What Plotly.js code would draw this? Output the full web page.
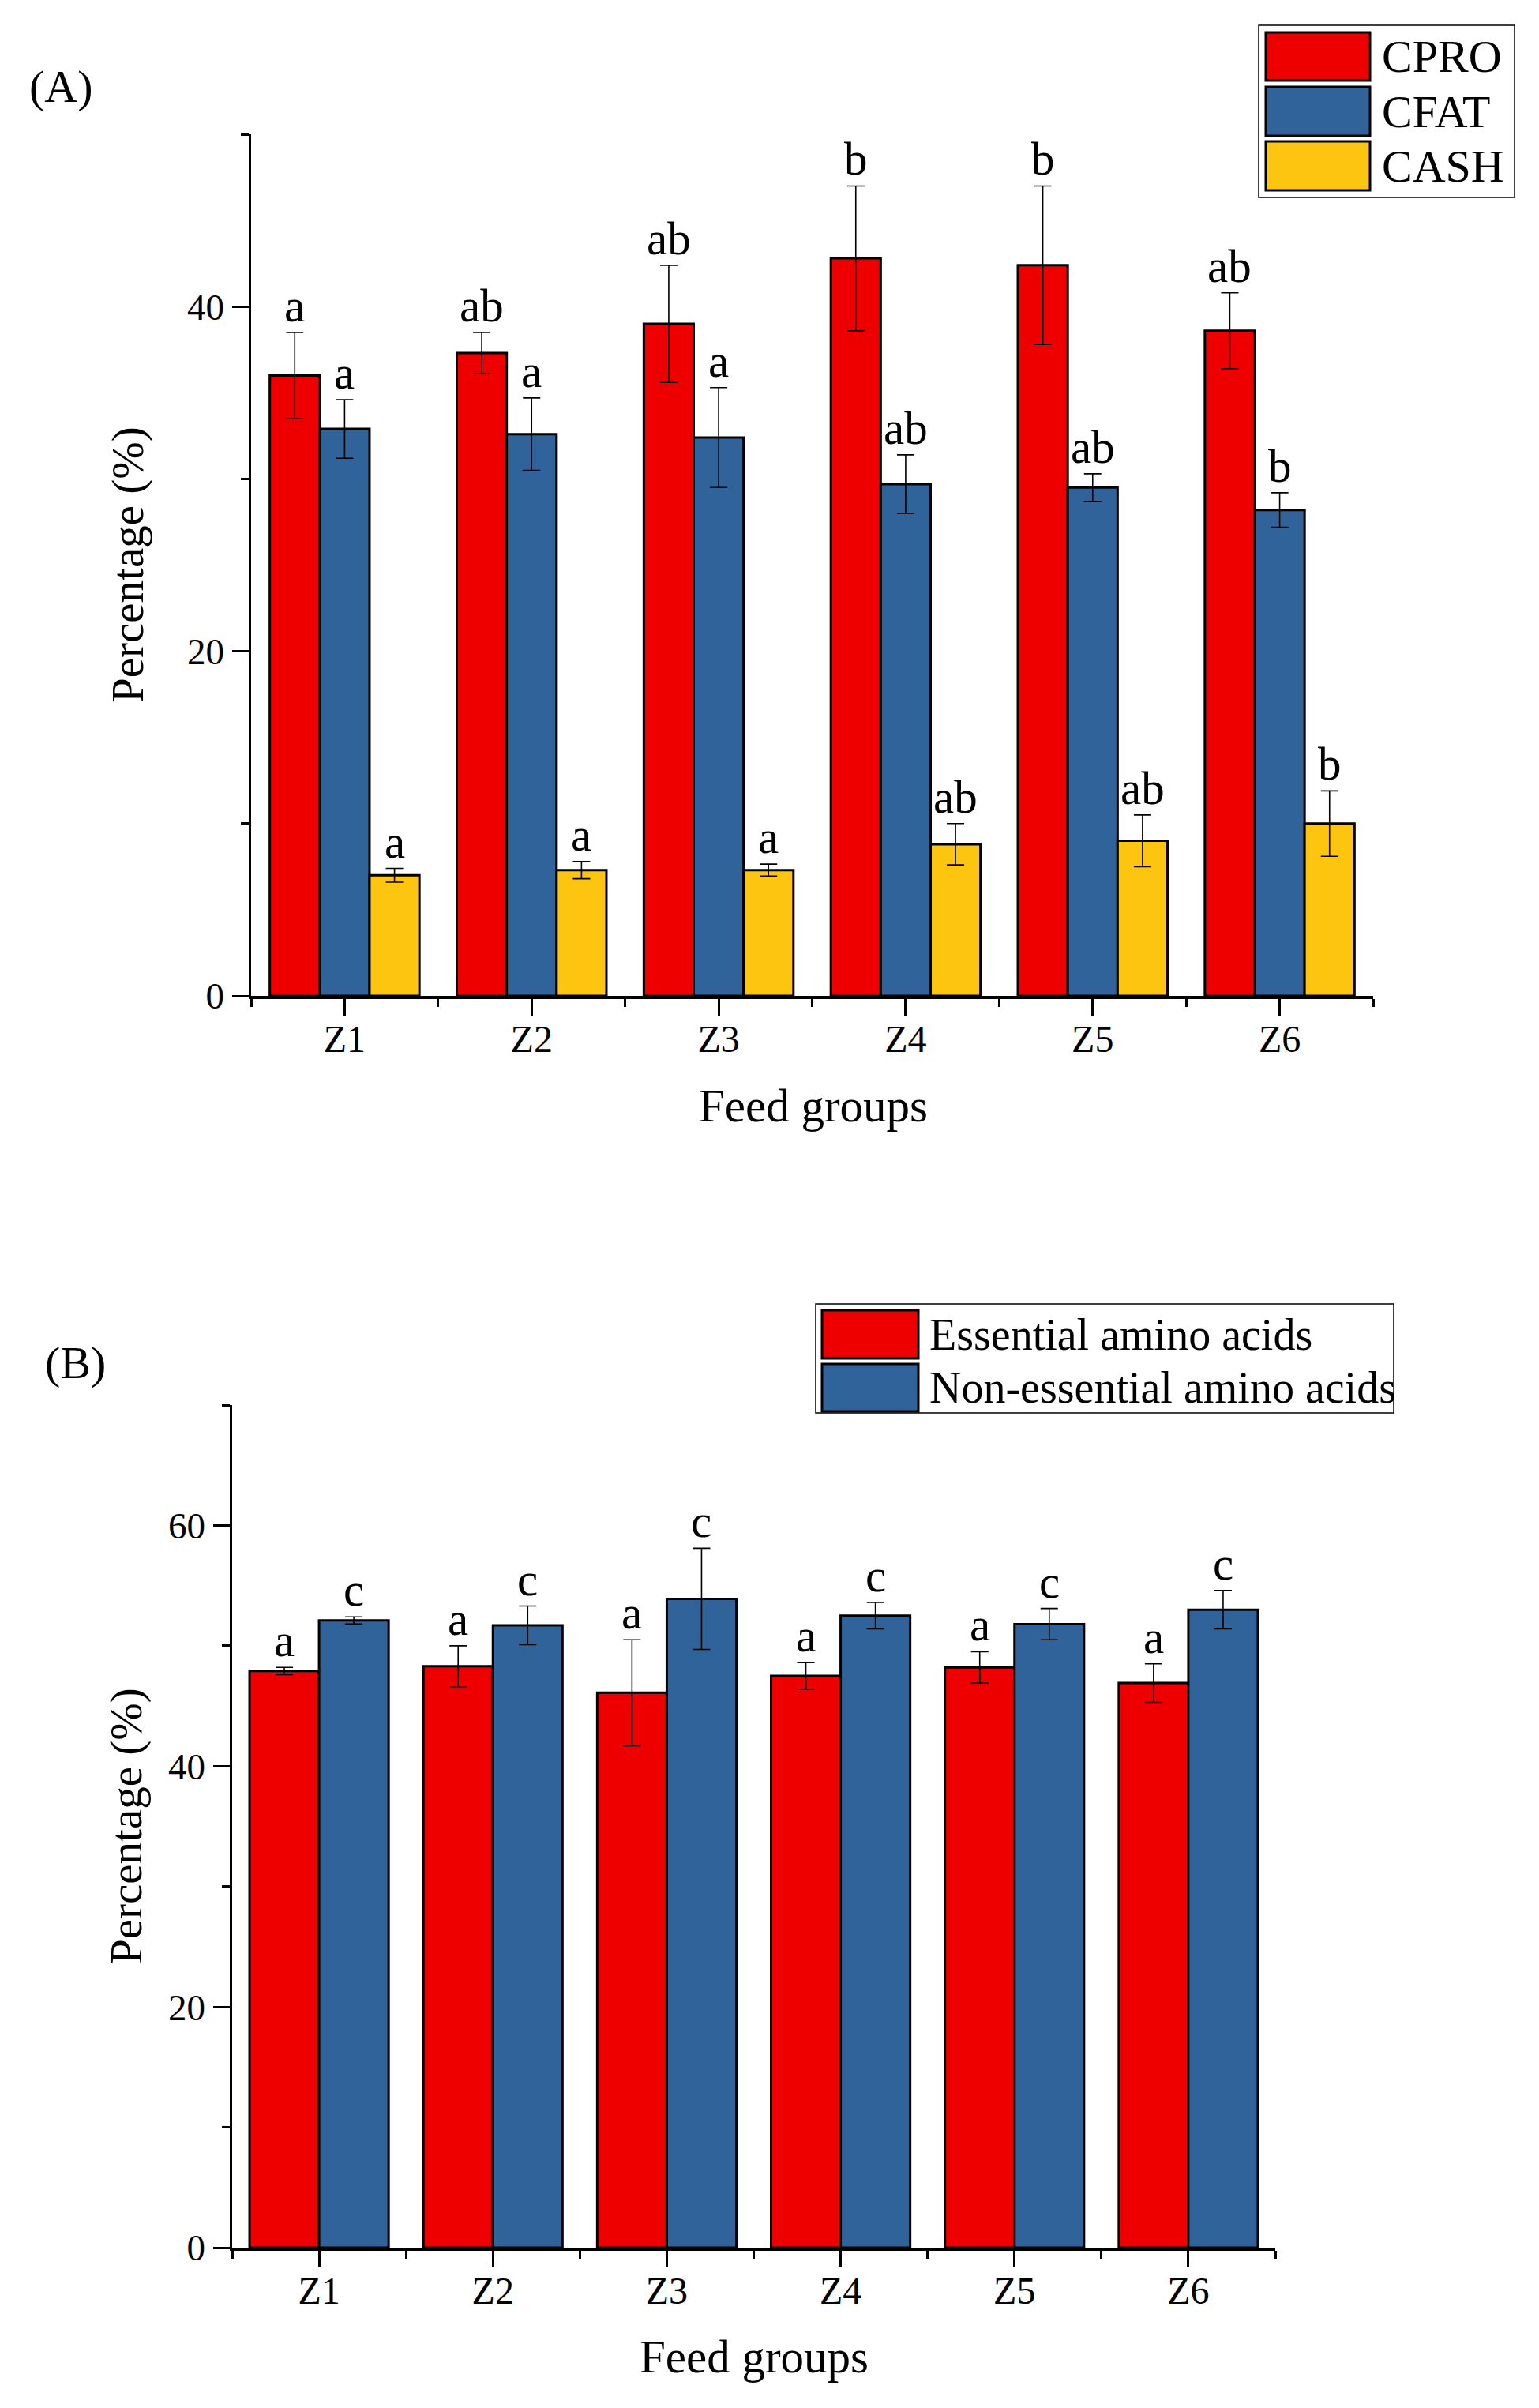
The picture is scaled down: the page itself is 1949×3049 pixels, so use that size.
<!DOCTYPE html>
<html>
<head>
<meta charset="utf-8">
<script src="https://cdn.plot.ly/plotly-3.0.1.min.js"></script>
<style>html,body{margin:0;padding:0;background:#fff;}#chart{width:1949px;height:3049px;}</style>
</head>
<body>
<div id="chart"></div>
<script>
// ---------- data ----------
const categories = ['Z1', 'Z2', 'Z3', 'Z4', 'Z5', 'Z6'];

// Panel A
const cproMean = [36.0, 37.3, 39.0, 42.8, 42.4, 38.6];
const cproErr  = [2.5, 1.2, 3.4, 4.2, 4.6, 2.2];
const cproLetters = ['a', 'ab', 'ab', 'b', 'b', 'ab'];

const cfatMean = [32.9, 32.6, 32.4, 29.7, 29.5, 28.2];
const cfatErr  = [1.7, 2.1, 2.9, 1.7, 0.8, 1.0];
const cfatLetters = ['a', 'a', 'a', 'ab', 'ab', 'b'];

const cashMean = [7.0, 7.3, 7.3, 8.8, 9.0, 10.0];
const cashErr  = [0.4, 0.5, 0.35, 1.2, 1.5, 1.9];
const cashLetters = ['a', 'a', 'a', 'ab', 'ab', 'b'];

// Panel B
const eaaMean = [47.9, 48.3, 46.1, 47.5, 48.2, 46.9];
const eaaErr  = [0.3, 1.7, 4.4, 1.1, 1.3, 1.6];
const eaaLetters = ['a', 'a', 'a', 'a', 'a', 'a'];

const neaaMean = [52.1, 51.7, 53.9, 52.5, 51.8, 53.0];
const neaaErr  = [0.3, 1.6, 4.2, 1.1, 1.3, 1.6];
const neaaLetters = ['c', 'c', 'c', 'c', 'c', 'c'];

const yTicksA = [0, 20, 40];
const yMinorA = [10, 30, 50];
const yTicksB = [0, 20, 40, 60];
const yMinorB = [10, 30, 50, 70];

// ---------- styles ----------
const W = 1949, H = 3049;
const FONT = 'Liberation Serif, Times New Roman, serif';
const RED = '#EE0000', BLUE = '#31639B', YELLOW = '#FDC50F';
const px = x => x / W;
const py = y => 1 - y / H;

const idx = categories.map((_, i) => i);
const minorX = [-0.5].concat(idx.map(i => i + 0.5));

function barTrace(name, y, err, color, xa, ya) {
  return {
    type: 'bar', name: name, x: idx, y: y,
    xaxis: xa, yaxis: ya,
    marker: {color: color, line: {color: '#000', width: 3}},
    error_y: {type: 'data', array: err, visible: true, color: '#000', thickness: 1.6, width: 11},
    showlegend: false, hoverinfo: 'skip'
  };
}

const traces = [
  barTrace('CPRO', cproMean, cproErr, RED, 'x', 'y'),
  barTrace('CFAT', cfatMean, cfatErr, BLUE, 'x', 'y'),
  barTrace('CASH', cashMean, cashErr, YELLOW, 'x', 'y'),
  barTrace('Essential amino acids', eaaMean, eaaErr, RED, 'x2', 'y2'),
  barTrace('Non-essential amino acids', neaaMean, neaaErr, BLUE, 'x2', 'y2')
];

const annotations = [];
function letterAnns(series, xref, yref) {
  const n = series.length, slot = 0.8 / n;
  series.forEach((s, k) => {
    s.mean.forEach((v, i) => {
      annotations.push({
        xref: xref, yref: yref,
        x: i + (k - (n - 1) / 2) * slot, y: v + s.err[i],
        text: s.letters[i], showarrow: false,
        xanchor: 'center', yanchor: 'bottom', yshift: -1,
        font: {family: FONT, size: 59, color: '#000'}
      });
    });
  });
}
letterAnns([
  {mean: cproMean, err: cproErr, letters: cproLetters},
  {mean: cfatMean, err: cfatErr, letters: cfatLetters},
  {mean: cashMean, err: cashErr, letters: cashLetters}
], 'x', 'y');
letterAnns([
  {mean: eaaMean, err: eaaErr, letters: eaaLetters},
  {mean: neaaMean, err: neaaErr, letters: neaaLetters}
], 'x2', 'y2');

function textAnn(text, x, y, size, opts) {
  return Object.assign({
    xref: 'paper', yref: 'paper', x: px(x), y: py(y), text: text,
    showarrow: false, xanchor: 'center', yanchor: 'middle',
    font: {family: FONT, size: size, color: '#000'}
  }, opts || {});
}
// panel labels & axis titles
annotations.push(textAnn('(A)', 77, 109, 58));
annotations.push(textAnn('(B)', 95, 1725, 58));
annotations.push(textAnn('Feed groups', 1030, 1400, 59));
annotations.push(textAnn('Feed groups', 955, 2984, 59));
annotations.push(textAnn('Percentage (%)', 162, 715, 57, {textangle: -90}));
annotations.push(textAnn('Percentage (%)', 160, 2312, 57, {textangle: -90}));

// custom legends
const shapes = [];
function legend(box, sw, rowsY, names, colors, textX, size) {
  shapes.push({type: 'rect', xref: 'paper', yref: 'paper',
    x0: px(box[0]), x1: px(box[1]), y0: py(box[3]), y1: py(box[2]),
    line: {color: '#000', width: 1.5}, fillcolor: '#fff'});
  names.forEach((nm, i) => {
    shapes.push({type: 'rect', xref: 'paper', yref: 'paper',
      x0: px(sw[0]), x1: px(sw[1]), y0: py(rowsY[i][1]), y1: py(rowsY[i][0]),
      line: {color: '#000', width: 3}, fillcolor: colors[i]});
    annotations.push(textAnn(nm, textX, (rowsY[i][0] + rowsY[i][1]) / 2, size, {xanchor: 'left'}));
  });
}
legend([1594, 1918, 32, 250], [1603, 1735], [[41, 102], [110, 172], [179, 241]],
  traces.slice(0, 3).map(t => t.name), [RED, BLUE, YELLOW], 1748, 58);
legend([1033, 1765, 1651, 1789], [1041, 1163], [[1659, 1720], [1727, 1787]],
  traces.slice(3).map(t => t.name), [RED, BLUE], 1175, 56);

function xAxis(domain, anchor) {
  return {
    domain: domain, anchor: anchor, range: [-0.5, 5.5],
    tickmode: 'array', tickvals: idx, ticktext: categories,
    ticks: 'outside', ticklen: 21, tickwidth: 3, tickcolor: '#000',
    ticklabelstandoff: -11,
    showline: true, linewidth: 3.5, linecolor: '#000',
    showgrid: false, zeroline: false, fixedrange: true,
    tickfont: {family: FONT, size: 48, color: '#000'},
    minor: {tickmode: 'array', tickvals: minorX, ticks: 'outside', ticklen: 10, tickwidth: 3, tickcolor: '#000', showgrid: false}
  };
}
function yAxis(domain, anchor, range, tv, mv) {
  return {
    domain: domain, anchor: anchor, range: range,
    tickmode: 'array', tickvals: tv, ticktext: tv.map(String),
    ticks: 'outside', ticklen: 21, tickwidth: 3, tickcolor: '#000',
    showline: true, linewidth: 3.5, linecolor: '#000',
    showgrid: false, zeroline: false, fixedrange: true,
    tickfont: {family: FONT, size: 47, color: '#000'},
    minor: {tickmode: 'array', tickvals: mv, ticks: 'outside', ticklen: 10, tickwidth: 3, tickcolor: '#000', showgrid: false}
  };
}

const layout = {
  width: W, height: H,
  margin: {l: 0, r: 0, t: 0, b: 0},
  paper_bgcolor: '#fff', plot_bgcolor: '#fff',
  barmode: 'group', bargap: 0.2, bargroupgap: 0,
  showlegend: false,
  font: {family: FONT, color: '#000'},
  xaxis: xAxis([px(318), px(1739)], 'y'),
  yaxis: yAxis([py(1261), py(170)], 'x', [0, 50], yTicksA, yMinorA),
  xaxis2: xAxis([px(294), px(1615)], 'y2'),
  yaxis2: yAxis([py(2846), py(1779)], 'x2', [0, 70], yTicksB, yMinorB),
  annotations: annotations,
  shapes: shapes
};

Plotly.newPlot('chart', traces, layout, {displayModeBar: false, staticPlot: true});
</script>
</body>
</html>
